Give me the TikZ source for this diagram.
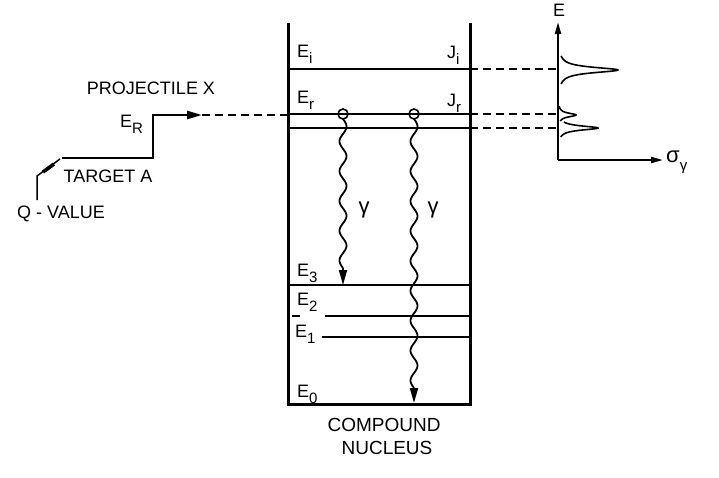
\documentclass[tikz,border=0pt]{standalone}
\usepackage{fontspec}
\setmainfont{Liberation Sans}
\usetikzlibrary{arrows.meta}
\newcommand\lsub[1]{\raisebox{-0.35em}{\fontsize{15}{15}\selectfont #1}}
\begin{document}
\begin{tikzpicture}[x=1pt,y=-1pt,
  lbl/.style={font=\fontsize{18}{18}\selectfont, inner sep=0pt},
  glbl/.style={font=\fontsize{22}{22}\selectfont, inner sep=0pt},
  lev/.style={line width=2.2pt},
  wall/.style={line width=3pt},
  dsh/.style={line width=1.8pt, dash pattern=on 8pt off 5pt},
  wave/.style={line width=1.8pt},
  bigtip/.style={-{Triangle[length=15pt,width=8pt]}},
  axtip/.style={-{Triangle[length=12pt,width=6pt]}},
  peak/.style={line width=1.6pt}]
\useasboundingbox (0,0) rectangle (719,477);
% box
\coordinate (TL) at (288,23); \coordinate (BL) at (288,404);
\coordinate (TR) at (470,23); \coordinate (BR) at (470,404);
\draw[wall] (TL) -- (BL) -- (BR) -- (TR);
% levels
\coordinate (LiL) at (288,69);  \coordinate (LiR) at (470,69);
\coordinate (LrL) at (288,114); \coordinate (LrR) at (470,114);
\coordinate (LsL) at (288,128); \coordinate (LsR) at (470,128);
\coordinate (L3L) at (288,285); \coordinate (L3R) at (470,285);
\coordinate (L2L) at (325,316); \coordinate (L2R) at (470,316);
\coordinate (L1L) at (322,337); \coordinate (L1R) at (470,337);
\draw[lev] (LiL) -- (LiR);
\draw[lev] (LrL) -- (LrR);
\draw[lev] (LsL) -- (LsR);
\draw[lev] (L3L) -- (L3R);
\draw[lev] (L2L) -- (L2R);
\draw[lev] (292,316) -- (300,316);
\draw[lev] (L1L) -- (L1R);
% level labels
\node[lbl, anchor=base west] (Ei) at (297,57) {E\lsub{i}};
\node[lbl, anchor=base west] (Ji) at (447,58) {J\lsub{i}};
\node[lbl, anchor=base west] (Er) at (297,103) {E\lsub{r}};
\node[lbl, anchor=base west] (Jr) at (447,106) {J\lsub{r}};
\node[lbl, anchor=base west] (E3) at (297,276) {E\lsub{3}};
\node[lbl, anchor=base west] (E2) at (297,305) {E\lsub{2}};
\node[lbl, anchor=base west] (E1) at (295,337) {E\lsub{1}};
\node[lbl, anchor=base west] (E0) at (297,397) {E\lsub{0}};
% gamma decays
\node[circle, draw, line width=1.6pt, minimum size=10pt, inner sep=0pt] (c1) at (343,114) {};
\node[circle, draw, line width=1.6pt, minimum size=10pt, inner sep=0pt] (c2) at (414,114) {};
\coordinate (w1) at (343,268); \coordinate (g1) at (343,285);
\coordinate (w2) at (414,388); \coordinate (g2) at (414,403);
\draw[wave] plot[domain=119:268, samples=120, smooth] ({343+3.5*sin((\x-119)/29.8*360)}, {\x});
\draw[wave, bigtip] (w1) -- (g1);
\draw[wave] plot[domain=119:388, samples=200, smooth] ({414+3.5*sin((\x-119)/29.89*360)}, {\x});
\draw[wave, bigtip] (w2) -- (g2);
\node[glbl] (gam1) at (364,210) {γ};
\node[glbl] (gam2) at (433,210) {γ};
% projectile step
\coordinate (q0) at (62,158); \coordinate (q1) at (153,158);
\coordinate (q2) at (153,115); \coordinate (q3) at (202,115);
\draw[line width=2.6pt, bigtip] (q0) -- (q1) -- (q2) -- (q3);
\draw[dsh] (q3) -- (288,115);
\node[lbl] (proj) at (151,88) {PROJECTILE X};
\node[lbl, anchor=base west] (ER) at (120,127) {E\lsub{R}};
\node[lbl] (targ) at (108,176) {TARGET A};
\node[lbl] (qval) at (61,214) {Q - VALUE};
% Q-value pointer
\coordinate (p0) at (37,200); \coordinate (p1) at (37,176); \coordinate (p2) at (60,159);
\draw[line width=1.5pt] (p0) -- (p1) -- (p2);
\draw[line width=3.6pt] (43,172) -- (54,164);
% compound nucleus label
\node[lbl, font=\fontsize{19}{19}\selectfont] (cn1) at (384,425) {COMPOUND};
\node[lbl, font=\fontsize{19}{19}\selectfont] (cn2) at (387,448) {NUCLEUS};
% right plot
\coordinate (A0) at (558,160); \coordinate (Atop) at (558,22); \coordinate (Aright) at (663,160);
\draw[line width=2pt, axtip] (A0) -- (Atop);
\draw[line width=2pt, axtip] (A0) -- (Aright);
\node[lbl] (Elab) at (559,10) {E};
\node[glbl, anchor=west] (sig) at (666,162) {σ\lsub{γ}};
\draw[dsh] (LiR) -- (558,69);
\draw[dsh] (LrR) -- (558,114);
\draw[dsh] (LsR) -- (558,128);
\draw[peak] plot[domain=-14:14, samples=80, smooth] ({558+60/(1+(\x/3.3)^2)}, {70+\x});
\draw[peak] plot[domain=-9:6, samples=60, smooth] ({558+18/(1+(\x/2.3)^2)}, {115+\x});
\draw[peak] plot[domain=-6:9, samples=60, smooth] ({558+40/(1+(\x/2.5)^2)}, {128+\x});
\end{tikzpicture}
\end{document}
